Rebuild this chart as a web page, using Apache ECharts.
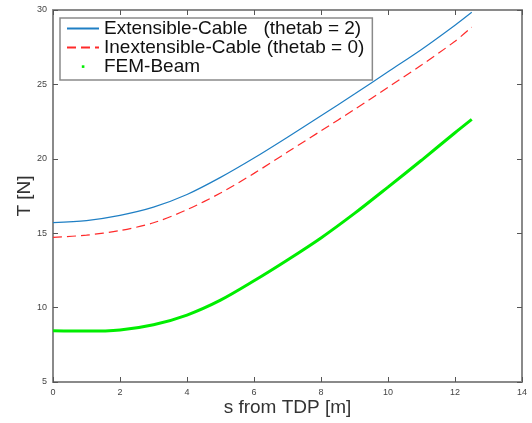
<!DOCTYPE html>
<html>
<head>
<meta charset="utf-8">
<script src="https://cdn.jsdelivr.net/npm/echarts@6/dist/echarts.min.js"></script>
<style>
html,body{margin:0;padding:0;background:#fff;}
#c{width:532px;height:423px;}
</style>
</head>
<body>
<div id="c"></div>
<script>
// ---- data ----
const sValues = [0, 1, 2, 3, 4, 5, 6, 7, 8, 9, 10, 11, 12, 12.5];
const extT   = [15.71, 15.85, 16.2, 16.75, 17.6, 18.75, 20.05, 21.45, 22.9, 24.35, 25.85, 27.35, 28.98, 29.85];
const inextT = [14.72, 14.87, 15.18, 15.7, 16.58, 17.7, 19.02, 20.45, 21.88, 23.32, 24.8, 26.3, 27.9, 28.85];
const femT   = [8.45, 8.42, 8.5, 8.85, 9.5, 10.5, 11.8, 13.2, 14.68, 16.33, 18.1, 19.9, 21.75, 22.65];
const seriesNames = ['Extensible-Cable   (thetab = 2)', 'Inextensible-Cable (thetab = 0)', 'FEM-Beam'];
const xTicks = {min: 0, max: 14, interval: 2};
const yTicks = {min: 5, max: 30, interval: 5};
const xName = 's from TDP [m]';
const yName = 'T [N]';

const zip = (a, b) => a.map((v, i) => [v, b[i]]);
const FONT = '"Liberation Sans", Arial, Helvetica, sans-serif';
const boxLine = {show: true, onZero: false, lineStyle: {color: '#8a8a8a', width: 2}};
const tick = {show: true, inside: true, length: 5, lineStyle: {color: '#555', width: 1}};
const lab = {color: '#444', fontSize: 9, fontFamily: FONT, margin: 6};

const chart = echarts.init(document.getElementById('c'), null, {renderer: 'canvas'});
chart.setOption({
  backgroundColor: '#fff',
  animation: false,
  grid: {left: 53, right: 10, top: 10, bottom: 41, containLabel: false, outerBoundsMode: 'none'},
  legend: {
    orient: 'vertical', left: 60, top: 18,
    padding: [1, 8, 4, 6],
    itemWidth: 32, itemHeight: 14, itemGap: 0,
    backgroundColor: '#fff', borderColor: '#8a8a8a', borderWidth: 1.5, borderRadius: 0,
    selectedMode: false,
    textStyle: {fontFamily: FONT, fontSize: 19, lineHeight: 19, color: '#111'},
    data: [
      {name: seriesNames[0], itemStyle: {opacity: 0}},
      {name: seriesNames[1], itemStyle: {opacity: 0}},
      {name: seriesNames[2], icon: 'path://M0,0M32,14M14.8,5.8h2.6v2.6h-2.6z'}
    ]
  },
  xAxis: [
    {type: 'value', min: xTicks.min, max: xTicks.max, interval: xTicks.interval,
     name: xName, nameLocation: 'middle', nameGap: 16, nameMoveOverlap: false,
     nameTextStyle: {fontFamily: FONT, fontSize: 19, color: '#333'},
     axisLine: boxLine, axisTick: tick, axisLabel: lab, splitLine: {show: false}},
    {type: 'value', position: 'top', min: xTicks.min, max: xTicks.max, interval: xTicks.interval,
     axisLine: boxLine, axisTick: tick, axisLabel: {show: false}, splitLine: {show: false}}
  ],
  yAxis: [
    {type: 'value', min: yTicks.min, max: yTicks.max, interval: yTicks.interval,
     name: yName, nameLocation: 'middle', nameGap: 19, nameRotate: 90, nameMoveOverlap: false,
     nameTextStyle: {fontFamily: FONT, fontSize: 19, color: '#333'},
     axisLine: boxLine, axisTick: tick, axisLabel: lab, splitLine: {show: false}},
    {type: 'value', position: 'right', min: yTicks.min, max: yTicks.max, interval: yTicks.interval,
     axisLine: boxLine, axisTick: tick, axisLabel: {show: false}, splitLine: {show: false}}
  ],
  series: [
    {name: seriesNames[0], type: 'line', data: zip(sValues, extT), smooth: 0.3, symbol: 'none',
     color: '#1f7fc4', lineStyle: {color: '#1f7fc4', width: 1.2}},
    {name: seriesNames[1], type: 'line', data: zip(sValues, inextT), smooth: 0.3, symbol: 'none',
     color: '#ff2a2a', lineStyle: {color: '#ff2a2a', width: 1.2, type: [9, 5]}},
    {name: seriesNames[2], type: 'line', data: zip(sValues, femT), smooth: 0.3, symbol: 'none',
     color: '#00ee00', lineStyle: {color: '#00ee00', width: 3}, z: 1}
  ]
});
</script>
</body>
</html>
